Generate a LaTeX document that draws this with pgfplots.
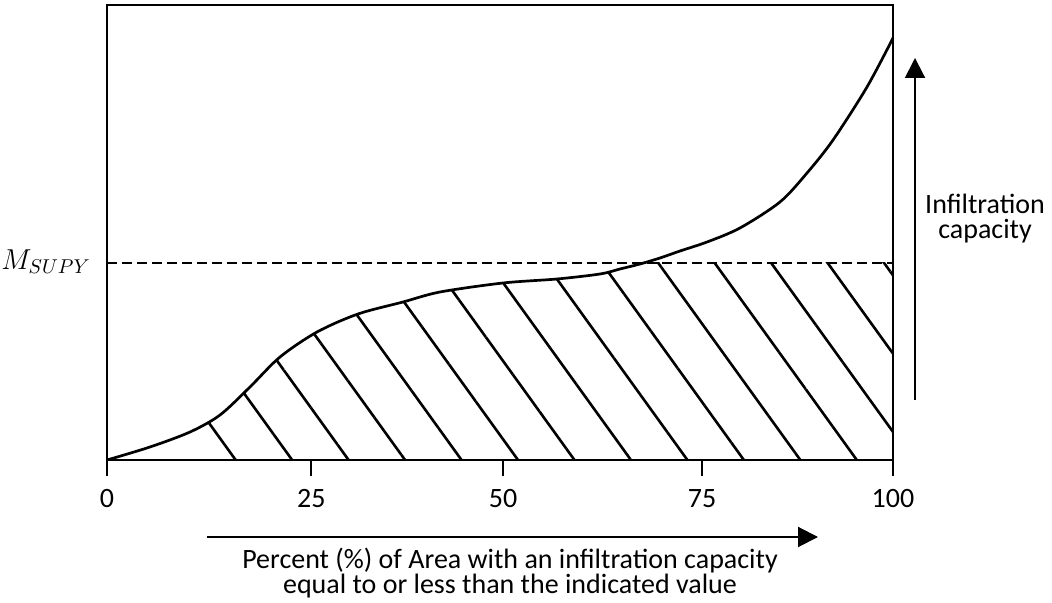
\documentclass[border=0pt]{standalone}
\usepackage{fontspec}
\setmainfont{Carlito}
\usepackage{pgfplots}
\pgfplotsset{compat=1.18}
\usetikzlibrary{patterns.meta,arrows.meta}

\begin{document}
\fontsize{14pt}{12pt}\selectfont
\begin{tikzpicture}
\begin{axis}[
    at={(0,0)}, anchor=origin,
    scale only axis,
    width=393pt, height=227.5pt,
    xmin=0, xmax=100, ymin=0, ymax=455,
    axis line style={line width=1pt},
    xtick={0,26,50.4,75.7,100},
    xticklabels={0,25,50,75,100},
    xtick pos=lower,
    tick align=outside,
    major tick length=8pt,
    tick style={draw=black, line width=1pt},
    ytick=\empty,
    /pgf/number format/assume math mode=true,
    xticklabel style={font=\fontsize{14pt}{14pt}\selectfont, yshift=-2pt},
    clip=false,
]
% hatched area below the curve, up to the M_SUPY level
\addplot[draw=none, smooth, pattern={Lines[angle=-54.2, distance=22.9pt, line width=1.3pt]}]
    coordinates {
    (10,25.5) (10.56,28) (14.38,45) (18.19,73)
    (22.01,103) (26.72,128) (31.93,146) (37.66,158) (42.37,168)
    (50.38,177) (57.25,181) (62.72,186) (65.27,191) (67.81,196)
    } \closedcycle;
\addplot[draw=none, pattern={Lines[angle=-54.2, distance=22.9pt, line width=1.3pt]}]
    coordinates {(67.81,197) (100,197)} \closedcycle;
% infiltration capacity curve (y in px above the base line)
\addplot[smooth, line width=1.35pt, black] coordinates {
    (0,0) (5.47,13) (10.56,28) (14.38,45) (18.19,73)
    (22.01,103) (26.72,128) (31.93,146) (37.66,158) (42.37,168)
    (50.38,177) (57.25,181) (62.72,186) (65.27,191) (67.81,196)
    (70.36,202) (72.90,209) (76.34,218) (80.53,232) (85.62,258)
    (89.06,287) (92.37,320) (96.69,373) (100,422)
};
% M_SUPY level
\addplot[black, line width=0.8pt, dash pattern=on 5pt off 2.5pt]
    coordinates {(0,197) (100,197)};
\end{axis}
\node at (-30.5pt,99pt) {\fontsize{14pt}{14pt}\selectfont $M_{SUPY}$};
\draw[line width=1pt, -{Triangle[length=10pt, width=10pt]}] (404pt,30pt) -- (404pt,201pt);
\node[align=center, font=\fontsize{14pt}{12.5pt}\selectfont] at (439pt,120.5pt) {Infiltration\\capacity};
\draw[line width=1pt, -{Triangle[length=10pt, width=10pt]}] (50pt,-38.5pt) -- (355.5pt,-38.5pt);
\node[align=center, font=\fontsize{14pt}{12.5pt}\selectfont] at (201.5pt,-56.5pt) {Percent (\%) of Area with an infiltration capacity\\equal to or less than the indicated value};
% tick marks below the base line
\fill[black] (-0.5pt,0pt) rectangle (0.5pt,-8pt);
\fill[black] (101.7pt,0pt) rectangle (102.7pt,-8pt);
\fill[black] (197.6pt,0pt) rectangle (198.6pt,-8pt);
\fill[black] (297pt,0pt) rectangle (298pt,-8pt);
\fill[black] (392.5pt,0pt) rectangle (393.5pt,-8pt);
\pgfresetboundingbox
\useasboundingbox (-53.5pt,-71.5pt) rectangle (472.5pt,230pt);
\end{tikzpicture}
\end{document}
